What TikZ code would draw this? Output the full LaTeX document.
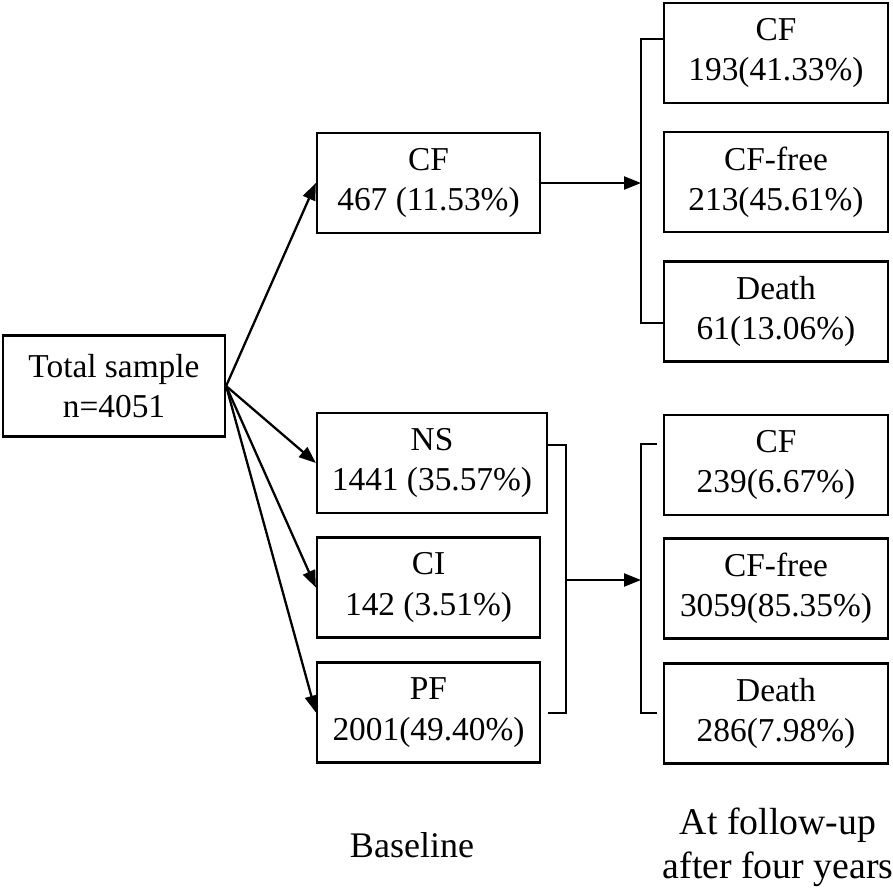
\documentclass[tikz,border=0pt]{standalone}
\usepackage{fontspec}
\setmainfont{Liberation Serif}
\usetikzlibrary{arrows.meta}

\begin{document}
\begin{tikzpicture}[x=0.02cm, y=-0.02cm, line width=1.3pt,
    main/.style = {draw, align=center, inner sep=0pt, minimum width=4.46cm, minimum height=2cm, font=\fontsize{19}{23}\selectfont},
    lbl/.style = {align=center, font=\fontsize{20.5}{24}\selectfont},
    arr/.style = {-{Triangle[length=0.34cm, width=0.26cm]}}]
    \useasboundingbox (0,0) rectangle (893,894);
    \node[main, minimum width=4.44cm, minimum height=2.02cm] (0) at (114,386) {Total sample\\n=4051};
    \node[main] (1) at (428.5,183) {CF\\467 (11.53\%)};
    \node[main, minimum width=4.6cm] (2) at (432,463) {NS\\1441 (35.57\%)};
    \node[main] (3) at (428.5,587.5) {CI\\142 (3.51\%)};
    \node[main] (4) at (428.5,712.5) {PF\\2001(49.40\%)};
    \node[main, minimum width=4.48cm] (5) at (776,53) {CF\\193(41.33\%)};
    \node[main, minimum width=4.48cm] (6) at (776,182) {CF-free\\213(45.61\%)};
    \node[main, minimum width=4.48cm] (7) at (776,311.5) {Death\\61(13.06\%)};
    \node[main, minimum width=4.48cm] (8) at (776,465) {CF\\239(6.67\%)};
    \node[main, minimum width=4.48cm] (9) at (776,588.5) {CF-free\\3059(85.35\%)};
    \node[main, minimum width=4.48cm] (10) at (776,713.5) {Death\\286(7.98\%)};
    \node[lbl] (b) at (412,845) {Baseline};
    \node[lbl, font=\fontsize{21.5}{25}\selectfont] (f) at (778,847) {At follow-up\\after four years};
    \coordinate (t) at (641,183);
    \coordinate (l) at (566,580);
    \coordinate (r) at (641,580);
    \draw[arr] (0.east) -- (1.west);
    \draw[arr] (0.east) -- (2.west);
    \draw[arr] (0.east) -- (3.west);
    \draw[arr] (0.east) -- (4.west);
    \draw (663,39) -- (641,39) -- (641,323) -- (663,323);
    \draw[arr] (1.east) -- (t);
    \draw (548,445) -- (566,445) -- (566,713) -- (548,713);
    \draw[arr] (l) -- (r);
    \draw (657,444) -- (641,444) -- (641,713) -- (657,713);
\end{tikzpicture}
\end{document}
